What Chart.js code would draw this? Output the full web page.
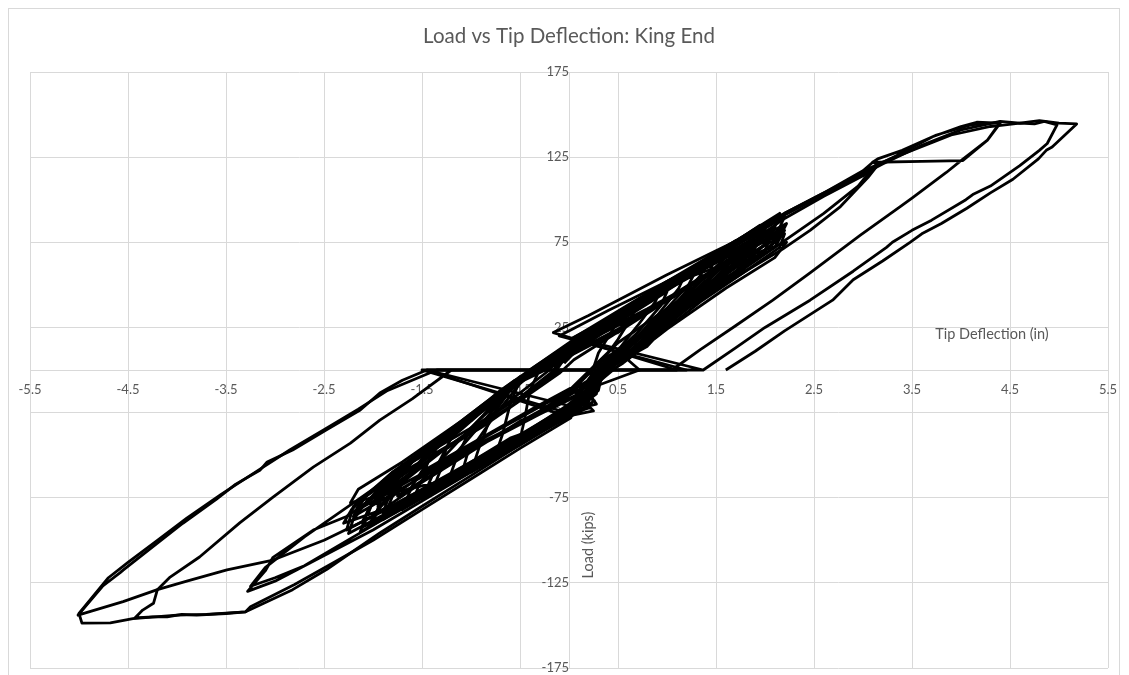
<!DOCTYPE html>
<html>
<head>
<meta charset="utf-8">
<title>Load vs Tip Deflection: King End</title>
<script src="https://cdn.jsdelivr.net/npm/chart.js@4.4.1/dist/chart.umd.min.js"></script>
<style>
  html, body { margin: 0; padding: 0; background: #fff; }
  #wrap { position: relative; width: 1129px; height: 675px; }
</style>
</head>
<body>
<div id="wrap"><canvas id="chart"></canvas></div>
<script>
// axis ticks (in / kips)
const xTickValues = [-5.5, -4.5, -3.5, -2.5, -1.5, -0.5, 0.5, 1.5, 2.5, 3.5, 4.5, 5.5];
const yTickValues = [-175, -125, -75, -25, 25, 75, 125, 175];

// [tip deflection (in), load (kips)] — small cycles up to about +/-2.2 in
const coreCyclesA = [
  [-0.05, 4], [0.25, 22], [0.52, 32], [0.45, 24], [0.3, 10], [0.22, -4], [0.08, -16], [-0.25, -32], [-0.5, -41], [-0.45, -28], [-0.4, -12], [-0.3, 0],
  [-0.1, 6], [0.3, 24], [0.7, 39], [0.64, 31], [0.5, 18], [0.3, 2], [0.25, -10], [-0.05, -24], [-0.4, -38], [-0.75, -50], [-0.68, -38], [-0.6, -20], [-0.5, -6], [-0.3, 3],
  [-0.05, 8], [0.45, 30], [0.95, 49], [0.88, 40], [0.7, 26], [0.45, 8], [0.3, -4], [0.28, -14], [0.0, -26], [-0.5, -44], [-1.0, -60], [-0.92, -46], [-0.8, -28], [-0.6, -12], [-0.45, -2],
  [-0.08, 10], [0.5, 33], [1.2, 58], [1.12, 48], [0.9, 32], [0.6, 14], [0.35, 0], [0.3, -12], [0.05, -25], [-0.6, -46], [-1.25, -68], [-1.15, -52], [-1.0, -34], [-0.7, -16], [-0.5, -4],
  [0.0, 12], [0.6, 37], [1.45, 67], [1.35, 56], [1.1, 40], [0.75, 22], [0.45, 4], [0.28, -10], [0.1, -22], [-0.7, -50], [-1.5, -76], [-1.38, -60], [-1.2, -40], [-0.8, -20], [-0.5, -4],
  [0.02, 14], [0.8, 44], [1.7, 76], [1.6, 66], [1.3, 50], [0.9, 28], [0.5, 8], [0.25, -6], [0.12, -20], [-0.8, -52], [-1.7, -82], [-1.6, -68], [-1.35, -46], [-0.9, -24], [-0.55, -6], [-0.2, 4],
  [0.05, 12], [0.9, 46], [1.9, 83], [1.8, 72], [1.5, 58], [1.0, 32], [0.6, 10], [0.3, -4], [0.2, -18], [-0.9, -56], [-1.9, -88], [-1.8, -74], [-1.5, -52], [-1.0, -30], [-0.6, -10], [-0.1, 4],
  [0.0, 14], [1.0, 50], [2.0, 86], [1.92, 76], [1.6, 62], [1.1, 36], [0.6, 10], [0.28, -6], [0.18, -22], [-1.0, -58], [-2.0, -90], [-1.92, -76], [-1.6, -54], [-1.1, -32], [-0.6, -10], [-0.2, 2],
  [0.03, 16], [1.1, 54], [2.15, 92], [2.1, 84], [1.8, 68], [1.2, 40], [0.7, 12], [0.3, -2], [0.22, -16], [0.02, -26], [-1.1, -62], [-2.13, -95], [-2.05, -82], [-1.75, -60], [-1.2, -36], [-0.7, -14], [-0.4, -2],
  [-0.02, 14], [1.1, 52], [2.22, 86], [2.15, 78], [1.9, 70], [1.3, 45], [0.8, 14], [0.3, -2], [0.25, -14], [0.05, -24], [-1.2, -64], [-2.23, -78], [-2.15, -70], [-1.7, -54], [-1.1, -30], [-0.6, -8], [-0.3, 4],
  [0.0, 10], [1.2, 54], [2.22, 75], [2.1, 66], [1.6, 48], [1.0, 24], [0.55, 4], [0.2, -8], [0.1, -20], [-1.1, -58], [-2.27, -94], [-2.2, -80], [-1.8, -60], [-1.2, -36], [-0.7, -12], [-0.45, -2],
  [0.05, 18], [1.0, 52], [1.98, 82], [1.9, 72], [1.6, 58], [1.2, 42], [0.9, 30], [0.5, 10], [0.3, -2],
];

// later small cycles, same range
const coreCyclesB = [
  [0.0, 12], [0.6, 33], [1.2, 54], [1.8, 74], [1.72, 64], [1.3, 41], [0.8, 18], [0.45, 4], [0.3, -6], [0.12, -14], [0.26, -18], [0.03, -27], [-0.6, -40], [-1.2, -61], [-1.9, -84], [-1.82, -72], [-1.3, -41], [-0.7, -17], [-0.45, -4], [-0.05, 6],
  [0.02, 16], [0.7, 40], [1.4, 64], [2.05, 88], [1.98, 80], [1.5, 50], [1.0, 26], [0.6, 8], [0.32, -3], [0.18, -12], [0.28, -20], [0.0, -24], [-0.7, -46], [-1.4, -70], [-2.1, -92], [-2.02, -80], [-1.5, -48], [-0.9, -22], [-0.5, -5], [-0.1, 4],
  [-0.05, 9], [0.5, 30], [1.0, 48], [1.5, 66], [1.42, 56], [1.0, 33], [0.6, 12], [0.35, 2], [0.25, -8], [0.05, -18], [0.22, -22], [-0.1, -28], [-0.8, -50], [-1.6, -78], [-1.52, -66], [-1.0, -34], [-0.6, -12], [-0.4, 0],
  [0.04, 17], [0.8, 42], [1.5, 66], [2.2, 90], [2.12, 80], [1.7, 58], [1.2, 36], [0.7, 14], [0.35, 0], [0.3, -10], [0.08, -20], [-0.8, -50], [-1.6, -76], [-2.25, -96], [-2.18, -84], [-1.7, -56], [-1.1, -30], [-0.55, -6], [-0.12, 4],
  [0.0, 11], [0.7, 38], [1.3, 59], [1.22, 50], [0.9, 30], [0.55, 10], [0.3, -2], [0.2, -14], [-0.05, -22], [-0.7, -46], [-1.4, -72], [-1.32, -60], [-0.9, -32], [-0.6, -12], [-0.35, 0],
  [0.0, 14], [0.5, 30], [0.9, 44], [1.3, 58], [1.7, 70], [2.15, 82], [2.08, 74], [1.75, 60], [1.35, 44], [0.95, 27], [0.6, 10], [0.3, -4], [0.22, -16], [0.02, -25], [-0.5, -40], [-1.0, -56], [-1.6, -76], [-2.2, -88], [-2.1, -80], [-1.6, -54], [-1.1, -32], [-0.6, -10], [-0.35, 2],
  [0.05, 15], [0.6, 36], [1.3, 60], [1.95, 85], [1.88, 76], [1.45, 52], [0.95, 30], [0.5, 8], [0.28, -4], [0.15, -18], [0.25, -24], [0.0, -27], [-0.6, -46], [-1.3, -68], [-2.05, -92], [-1.98, -84], [-1.4, -48], [-0.8, -20], [-0.5, -4], [-0.05, 5],
  [-0.05, 6], [0.5, 28], [1.0, 46], [0.94, 38], [0.7, 22], [0.4, 6], [0.25, -6], [0.1, -18], [-0.5, -40], [-1.1, -62], [-1.04, -50], [-0.75, -26], [-0.5, -8], [-0.3, 2],
  [0.02, 13], [0.9, 44], [1.6, 66], [2.2, 80], [2.15, 72], [1.8, 58], [1.3, 40], [0.8, 18], [0.45, 4], [0.25, -8], [0.1, -22], [-0.9, -54], [-1.7, -78], [-2.3, -90], [-2.22, -82], [-1.8, -60], [-1.2, -36], [-0.65, -12], [-0.4, 0],
];

// narrow cycles through the middle of the band
const coreCyclesC = [
  [0.0, 8], [0.5, 24], [1.0, 42], [1.5, 60], [2.0, 80], [2.1, 84], [2.0, 74], [1.5, 52], [1.0, 32], [0.5, 12], [0.25, -2], [0.05, -16], [-0.5, -30], [-1.0, -48], [-1.5, -66], [-2.0, -86], [-2.1, -88], [-2.0, -78], [-1.5, -56], [-1.0, -36], [-0.5, -18], [-0.2, -4],
  [-0.1, 5], [0.4, 20], [0.9, 38], [1.4, 56], [1.85, 72], [1.8, 64], [1.4, 48], [0.9, 28], [0.45, 10], [0.2, -6], [-0.3, -24], [-0.8, -40], [-1.3, -58], [-1.75, -74], [-1.7, -66], [-1.3, -48], [-0.8, -30], [-0.4, -14], [-0.1, -2],
  [0.05, 6], [0.6, 26], [1.2, 48], [1.75, 66], [2.18, 84], [2.12, 76], [1.7, 56], [1.2, 38], [0.7, 18], [0.35, 2], [0.15, -10], [-0.4, -28], [-1.0, -46], [-1.6, -64], [-2.15, -82], [-2.08, -74], [-1.6, -54], [-1.0, -34], [-0.5, -16], [-0.15, 0],
  [0.0, 10], [0.3, 18], [0.7, 30], [1.1, 44], [1.6, 62], [1.65, 64], [1.55, 54], [1.1, 36], [0.7, 20], [0.35, 6], [0.1, -8], [-0.35, -22], [-0.9, -40], [-1.45, -58], [-1.5, -62], [-1.42, -52], [-1.0, -36], [-0.55, -20], [-0.2, -6],
  [0.02, 12], [0.7, 32], [1.3, 52], [1.9, 74], [2.2, 82], [2.1, 72], [1.6, 54], [1.1, 34], [0.6, 14], [0.3, 0], [0.2, -12], [-0.3, -26], [-0.9, -44], [-1.6, -66], [-2.2, -86], [-2.12, -76], [-1.7, -60], [-1.1, -40], [-0.6, -22], [-0.25, -6],
  [0.0, 9], [0.5, 22], [0.8, 34], [1.25, 50], [1.25, 46], [0.9, 32], [0.5, 16], [0.25, 2], [0.0, -12], [-0.5, -28], [-1.0, -44], [-1.3, -54], [-1.25, -46], [-0.9, -34], [-0.5, -18], [-0.2, -4],
  [0.05, 14], [0.8, 36], [1.5, 58], [2.05, 78], [2.0, 70], [1.55, 50], [1.0, 30], [0.55, 12], [0.28, -2], [0.1, -14], [-0.6, -34], [-1.3, -54], [-1.95, -80], [-1.9, -70], [-1.4, -50], [-0.8, -30], [-0.35, -12], [-0.1, 0],
];

// cycles to about +3.1 / -3.3 in
const mediumCycles = [
  [0.02, 18], [1.0, 52], [2.0, 86], [2.6, 104], [3.0, 117], [3.1, 122], [3.16, 121], [3.05, 113], [2.77, 96], [2.46, 82], [2.18, 71], [1.8, 58], [1.34, 40], [0.9, 20], [0.45, 0],
  [0.2, -12], [0.05, -24], [-1.0, -60], [-2.0, -94], [-2.6, -112], [-3.0, -124], [-3.28, -130], [-3.1, -118], [-3.02, -110], [-2.61, -94], [-2.27, -86], [-1.5, -56], [-0.8, -27], [-0.2, 0],
  [0.0, 15], [1.2, 57], [2.2, 92], [2.7, 107], [3.05, 118], [3.12, 120], [2.95, 108], [2.6, 92], [2.2, 76], [1.7, 56], [1.2, 36], [0.8, 18], [0.6, 6], [0.72, 0],
  [0.25, -10], [0.0, -22], [-1.2, -64], [-2.2, -98], [-2.7, -115], [-3.0, -122], [-3.25, -127], [-3.1, -116], [-2.7, -98], [-2.2, -78], [-1.7, -58], [-1.2, -38], [-0.8, -20], [-0.5, -6], [-0.4, 0],
];

// first large cycle: +4.4 / -4.43 in
const largeCycle1 = [
  [-0.4, 0], [1.1, 0], [-0.16, 22], [0.2, 32], [0.5, 41], [1.0, 56], [1.5, 70], [2.0, 84], [2.2, 92], [2.6, 104], [3.0, 116], [3.38, 127], [3.71, 137], [4.0, 143], [4.16, 145.5], [4.4, 145],
  [4.27, 135], [4.02, 123], [3.6, 122.5], [3.1, 122], [3.15, 124], [3.4, 129], [3.75, 138], [4.1, 144], [4.4, 145.5],
  [4.27, 135], [4.0, 123], [3.85, 116], [3.5, 101], [3.38, 96], [2.97, 79], [2.46, 57], [2.08, 41], [1.7, 26], [1.34, 12], [1.05, 0],
  [-1.5, 0], [0.03, -26], [-0.5, -44], [-1.0, -62], [-1.5, -80], [-1.93, -95.7], [-2.47, -117], [-2.82, -129], [-3.3, -142], [-3.5, -143], [-3.8, -144], [-3.95, -143.5], [-4.1, -145], [-4.25, -145], [-4.43, -145.6],
  [-4.35, -141], [-4.24, -137], [-4.2, -129], [-4.07, -121.6], [-3.77, -109.8], [-3.36, -89.8], [-3.02, -74.6], [-2.61, -57], [-2.23, -42.9], [-1.93, -29.4], [-1.6, -17], [-1.2, 0],
];

// second large cycle: +4.98 / -5.01 in
const largeCycle2 = [
  [-1.2, 0], [1.37, 0], [0.04, 19], [0.5, 33], [1.0, 49], [1.5, 65], [2.0, 81], [2.2, 89], [2.6, 102], [3.0, 114], [3.15, 121], [3.5, 129], [3.9, 138], [4.3, 143], [4.45, 144], [4.6, 145], [4.75, 144.5], [4.85, 146], [4.98, 144],
  [4.88, 133], [4.8, 129], [4.6, 120], [4.3, 108], [4.12, 103], [4.05, 100], [3.7, 88], [3.5, 82], [3.3, 75], [3.24, 72], [2.9, 58], [2.46, 41], [2.0, 25], [1.7, 13], [1.37, 0],
  [-1.45, 0], [0.0, -21], [-0.5, -38], [-1.0, -54], [-1.5, -70], [-2.0, -86], [-2.5, -100], [-3.02, -111.6], [-3.49, -117.4], [-3.9, -124], [-4.2, -129], [-4.55, -136], [-5.01, -144],
  [-4.76, -127], [-4.58, -119], [-4.55, -117.5], [-4.2, -101.7], [-3.94, -90], [-3.6, -76], [-3.4, -67], [-3.15, -58.7], [-3.08, -54], [-2.82, -47], [-2.47, -35], [-2.13, -23.5], [-1.93, -13.5], [-1.7, -6], [-1.45, 0],
];

// last large cycle: -4.97 / +5.18 in
const largeCycle3 = [
  [-1.45, 0], [0.02, -28], [-0.5, -46], [-1.0, -64], [-1.5, -82], [-2.0, -100], [-2.4, -113], [-2.8, -126], [-3.25, -139], [-3.3, -142], [-3.7, -143.5], [-4.0, -144], [-4.45, -146], [-4.68, -148.5], [-4.97, -148.6],
  [-5.0, -143], [-4.7, -122], [-4.5, -113], [-4.2, -100], [-3.9, -87], [-3.55, -73], [-3.2, -60], [-2.85, -47], [-2.5, -35], [-2.15, -23], [-1.85, -12], [-1.35, 0],
  [1.2, 0], [-0.1, 20], [0.4, 35], [1.0, 52], [1.6, 70], [2.2, 91], [2.7, 106], [3.2, 121], [3.6, 132], [4.0, 141], [4.4, 146], [4.6, 145], [4.8, 146.5], [5.0, 145], [5.18, 144.5],
  [4.93, 131], [4.87, 129], [4.79, 124], [4.53, 112], [4.3, 104], [4.06, 95], [3.8, 86], [3.6, 80], [3.48, 75], [3.2, 64], [2.9, 53], [2.69, 41], [2.2, 23], [1.9, 11], [1.6, 0],
];

const textColor = '#595959';
const gridColor = '#d9d9d9';
const fontFamily = 'Lato, "Open Sans", sans-serif';

function toPoints(pairs) {
  return pairs.map(([x, y]) => ({ x, y }));
}

function lineDataset(pairs) {
  return {
    data: toPoints(pairs),
    showLine: true,
    borderColor: '#000',
    borderWidth: 2.8,
    borderJoinStyle: 'round',
    pointRadius: 0,
    tension: 0,
    fill: false,
  };
}

// no room reserved for tick label overhang
function dropPadding(scale) {
  scale.paddingLeft = 0;
  scale.paddingRight = 0;
  scale.paddingTop = 0;
  scale.paddingBottom = 0;
}

const chartDecor = {
  id: 'chartDecor',
  beforeDraw(chart) {
    const { ctx } = chart;
    ctx.save();
    ctx.fillStyle = '#fff';
    ctx.fillRect(0, 0, chart.width, chart.height);
    ctx.strokeStyle = gridColor;
    ctx.lineWidth = 1;
    ctx.strokeRect(8.5, 8.5, 1111, 700);
    ctx.restore();
  },
  beforeDatasetsDraw(chart) {
    const { ctx, chartArea, scales } = chart;
    const xZero = scales.x.getPixelForValue(0);
    const yZero = scales.y.getPixelForValue(0);
    ctx.save();
    ctx.fillStyle = textColor;
    ctx.font = '14.5px ' + fontFamily;
    ctx.textAlign = 'center';
    ctx.textBaseline = 'middle';
    ctx.fillText('Tip Deflection (in)', chartArea.right - 116, yZero - 36);
    ctx.translate(xZero + 19, chartArea.bottom - 123);
    ctx.rotate(-Math.PI / 2);
    ctx.fillText('Load (kips)', 0, 0);
    ctx.restore();
  },
};

new Chart(document.getElementById('chart'), {
  type: 'scatter',
  data: {
    datasets: [
      lineDataset(coreCyclesA),
      lineDataset(coreCyclesB),
      lineDataset(coreCyclesC),
      lineDataset(mediumCycles),
      lineDataset(largeCycle1),
      lineDataset(largeCycle2),
      lineDataset(largeCycle3),
    ],
  },
  options: {
    responsive: true,
    maintainAspectRatio: false,
    animation: false,
    layout: { padding: { left: 30, right: 21, top: 0, bottom: 7 } },
    plugins: {
      legend: { display: false },
      tooltip: { enabled: false },
      title: {
        display: true,
        text: 'Load vs Tip Deflection: King End',
        color: textColor,
        font: { family: fontFamily, size: 20.5, weight: 'normal' },
        padding: { top: 24, bottom: 23.4 },
      },
    },
    scales: {
      x: {
        type: 'linear',
        min: -5.5,
        max: 5.5,
        position: { y: 0 },
        afterBuildTicks: (scale) => {
          scale.ticks = xTickValues.map((value) => ({ value }));
        },
        afterFit: dropPadding,
        grid: { color: gridColor, drawTicks: false },
        border: { color: gridColor },
        ticks: {
          color: textColor,
          font: { family: fontFamily, size: 13 },
          padding: 12,
          maxRotation: 0,
          autoSkip: false,
          callback: (value) => String(value),
        },
      },
      y: {
        type: 'linear',
        min: -175,
        max: 175,
        position: { x: 0 },
        afterBuildTicks: (scale) => {
          scale.ticks = yTickValues.map((value) => ({ value }));
        },
        afterFit: dropPadding,
        grid: { color: gridColor, drawTicks: false },
        border: { color: gridColor },
        ticks: {
          color: textColor,
          font: { family: fontFamily, size: 13 },
          padding: 12,
          autoSkip: false,
          callback: (value) => String(value),
        },
      },
    },
  },
  plugins: [chartDecor],
});
</script>
</body>
</html>
